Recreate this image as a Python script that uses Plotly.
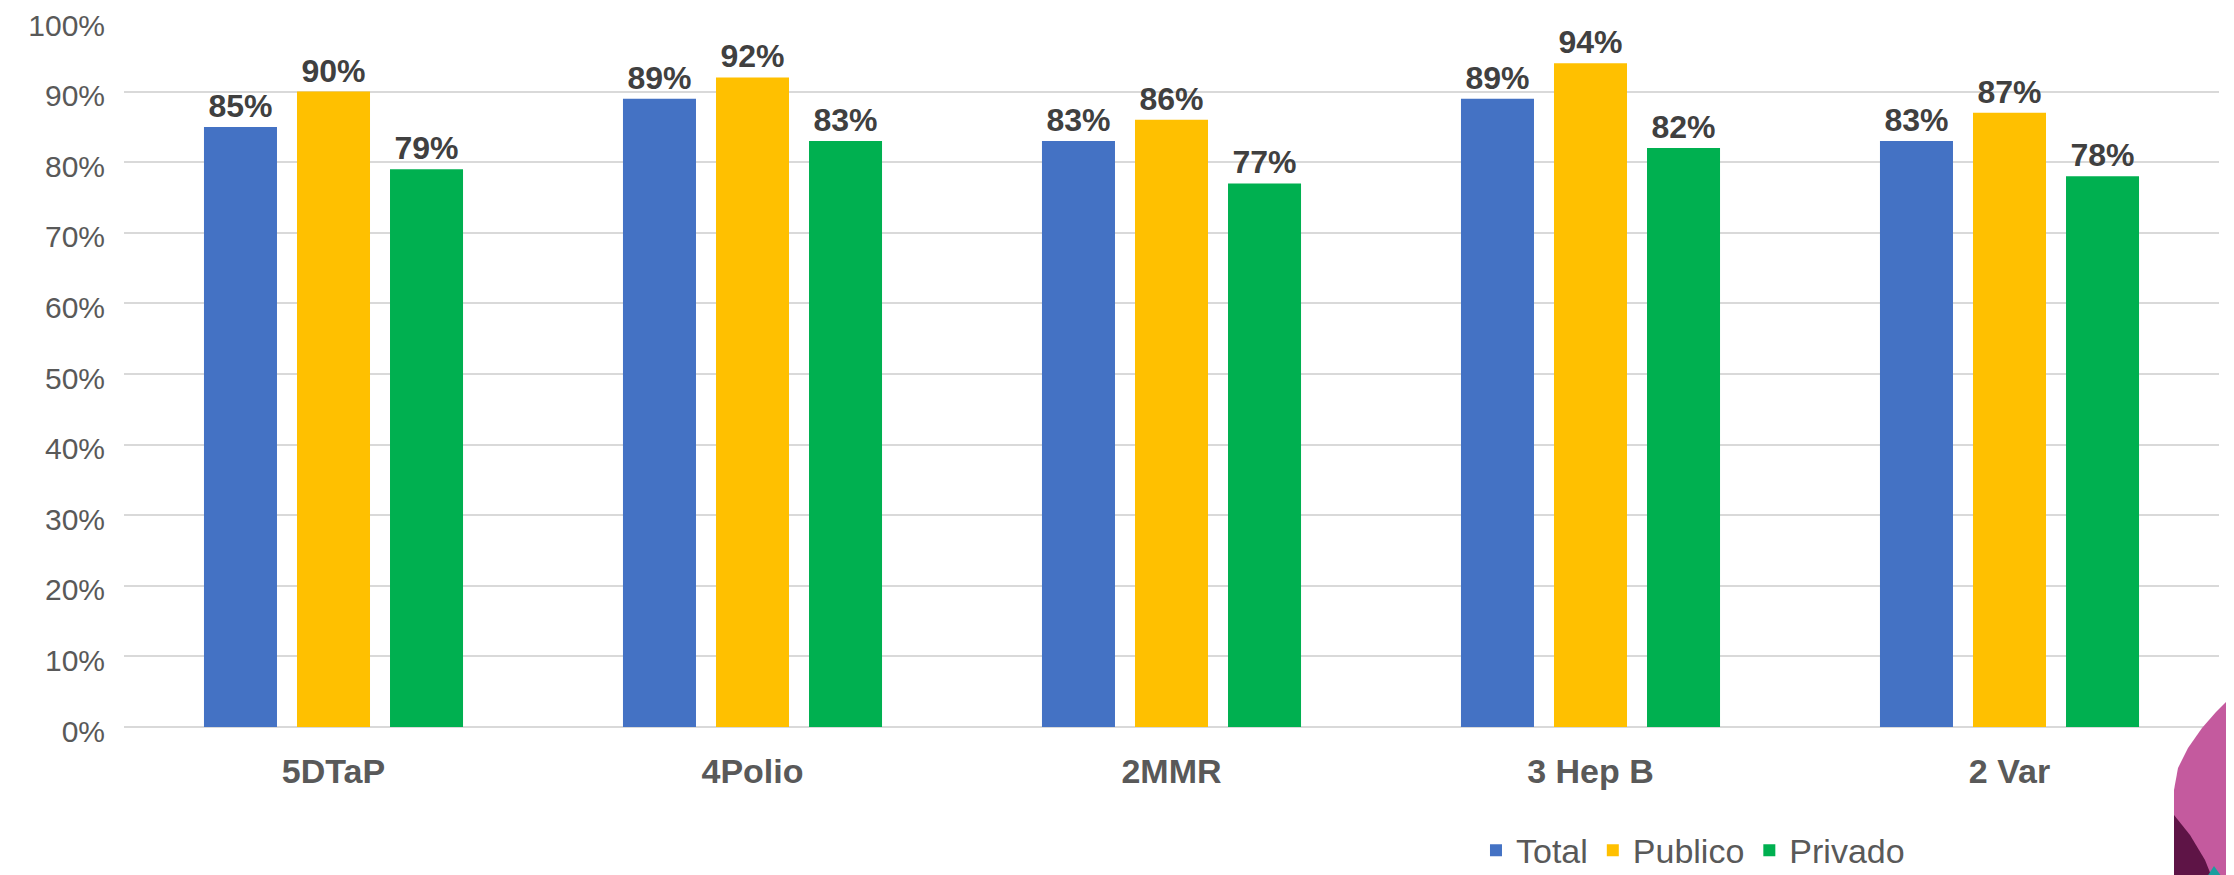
import plotly.graph_objects as go

categories = ["5DTaP", "4Polio", "2MMR", "3 Hep B", "2 Var"]
total = [0.85, 0.89, 0.83, 0.89, 0.83]
publico = [0.90, 0.92, 0.86, 0.94, 0.87]
privado = [0.79, 0.83, 0.77, 0.82, 0.78]
series = [("Total", total, "#4472C4"), ("Publico", publico, "#FFC000"), ("Privado", privado, "#00B050")]
y_ticks = [i / 10 for i in range(11)]

OFF = 8  # page body margin offset
W, H = 2234 - OFF, 875 - OFF
ML, MR, MT, MB = 124 - OFF, 15, 21 - OFF, 148

fig = go.Figure()
for name, vals, col in series:
    fig.add_trace(go.Bar(
        name=name, x=categories, y=vals, marker=dict(color=col, line=dict(width=0)),
        text=[f"{v:.0%}" for v in vals], textposition="outside", cliponaxis=False,
        textfont=dict(family="Liberation Sans, Arial", size=32, color="#404040", weight="bold"),
    ))

def px2paper(x, y):
    x, y = x - OFF, y - OFF
    return (x - ML) / (W - ML - MR), (H - MB - y) / (H - MT - MB)

def path(points):
    s = ""
    for i, (x, y) in enumerate(points):
        px, py = px2paper(x, y)
        s += ("M" if i == 0 else "L") + f"{px:.5f},{py:.5f} "
    return s + "Z"

# decorative logo fragment at bottom right
pink = [(2174, 880), (2174, 790), (2178, 768), (2188, 748), (2202, 728), (2216, 712), (2234, 694), (2234, 880)]
dark = [(2174, 880), (2174, 815), (2190, 835), (2205, 860), (2213, 880)]
teal = [(2205, 880), (2214, 866), (2224, 880)]
fig.add_shape(type="path", path=path(pink), xref="paper", yref="paper", fillcolor="#C45A9E", line=dict(width=0), layer="above")
fig.add_shape(type="path", path=path(dark), xref="paper", yref="paper", fillcolor="#5E1446", line=dict(width=0), layer="above")
fig.add_shape(type="path", path=path(teal), xref="paper", yref="paper", fillcolor="#1A9E9E", line=dict(width=0), layer="above")

fig.update_layout(
    width=W, height=H, barmode="group", bargap=0.334, bargroupgap=0.215,
    margin=dict(l=ML, r=MR, t=MT, b=MB, autoexpand=False),
    plot_bgcolor="white", paper_bgcolor="white",
    font=dict(family="Liberation Sans, Arial", color="#595959"),
    showlegend=True,
    legend=dict(orientation="h", x=0.8525, xanchor="right", y=-0.175, yanchor="middle",
                font=dict(size=34, color="#595959"), itemwidth=30, traceorder="normal"),
    xaxis=dict(showgrid=False, showline=False, ticks="", ticklabelstandoff=21, automargin=False,
               tickfont=dict(size=34, color="#595959", weight="bold")),
    yaxis=dict(range=[0, 1], tickvals=y_ticks, tickformat=".0%", showgrid=True, automargin=False,
               ticklabeloverflow="allow", ticklabelshift=4,
               gridcolor="#D9D9D9", gridwidth=1.5, zeroline=True, zerolinecolor="#D9D9D9",
               zerolinewidth=1.5, showline=False, ticks="", ticklabelstandoff=18,
               tickfont=dict(size=30, color="#595959")),
)
fig.write_html("out.html")
